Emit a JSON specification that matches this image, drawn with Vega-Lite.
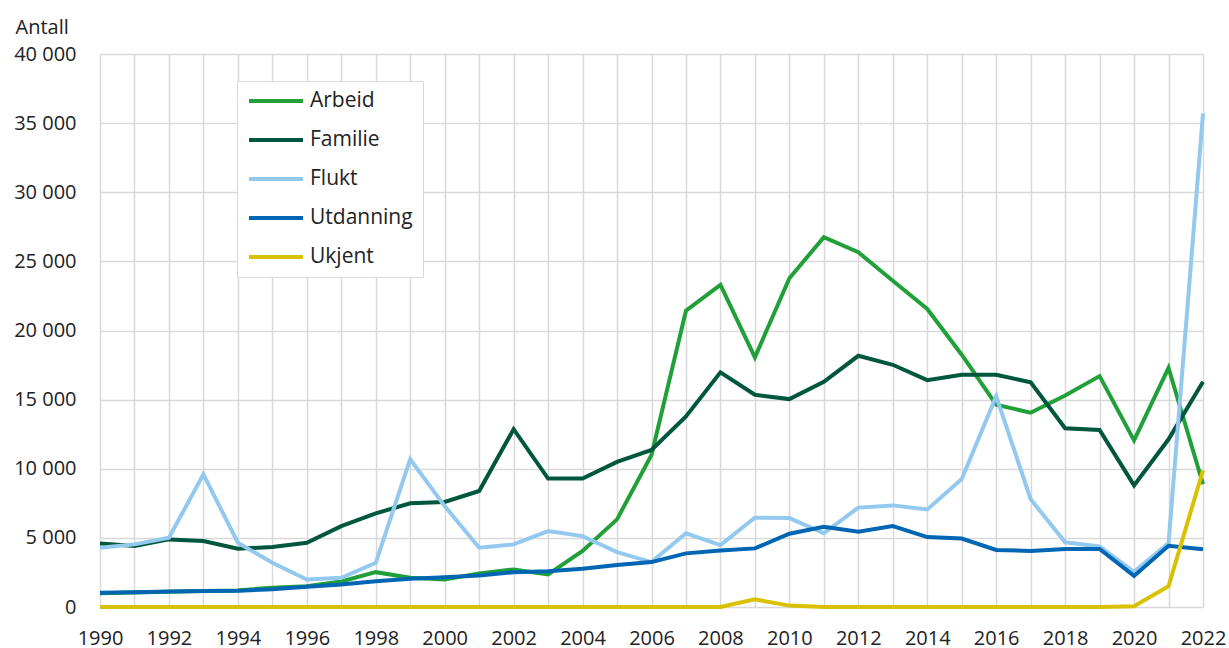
{
  "$schema": "https://vega.github.io/schema/vega-lite/v6.json",
  "autosize": {"type": "none"},
  "padding": {"left": 100, "top": 54, "right": 26, "bottom": 41},
  "width": 1103,
  "height": 553,
  "background": "white",
  "config": {
    "font": "Open Sans",
    "view": {"stroke": null},
    "axis": {"labelFont": "Open Sans", "labelFontSize": 20, "labelColor": "#222222", "titleFont": "Open Sans", "titleFontSize": 20, "titleColor": "#222222", "titleFontWeight": "normal", "gridColor": "#d9d9d9", "gridWidth": 1.5, "domain": false, "ticks": false}
  },
  "data": {"values": [
    {"year":1990,"series":"Arbeid","value":1000},{"year":1991,"series":"Arbeid","value":1050},{"year":1992,"series":"Arbeid","value":1100},{"year":1993,"series":"Arbeid","value":1150},{"year":1994,"series":"Arbeid","value":1200},{"year":1995,"series":"Arbeid","value":1400},{"year":1996,"series":"Arbeid","value":1500},{"year":1997,"series":"Arbeid","value":1850},{"year":1998,"series":"Arbeid","value":2520},{"year":1999,"series":"Arbeid","value":2110},{"year":2000,"series":"Arbeid","value":1990},{"year":2001,"series":"Arbeid","value":2430},{"year":2002,"series":"Arbeid","value":2720},{"year":2003,"series":"Arbeid","value":2360},{"year":2004,"series":"Arbeid","value":4050},{"year":2005,"series":"Arbeid","value":6340},{"year":2006,"series":"Arbeid","value":11000},{"year":2007,"series":"Arbeid","value":21430},{"year":2008,"series":"Arbeid","value":23300},{"year":2009,"series":"Arbeid","value":18060},{"year":2010,"series":"Arbeid","value":23780},{"year":2011,"series":"Arbeid","value":26750},{"year":2012,"series":"Arbeid","value":25660},{"year":2013,"series":"Arbeid","value":23600},{"year":2014,"series":"Arbeid","value":21560},{"year":2015,"series":"Arbeid","value":18250},{"year":2016,"series":"Arbeid","value":14630},{"year":2017,"series":"Arbeid","value":14050},{"year":2018,"series":"Arbeid","value":15300},{"year":2019,"series":"Arbeid","value":16700},{"year":2020,"series":"Arbeid","value":12050},{"year":2021,"series":"Arbeid","value":17300},{"year":2022,"series":"Arbeid","value":8880},
    {"year":1990,"series":"Familie","value":4600},{"year":1991,"series":"Familie","value":4410},{"year":1992,"series":"Familie","value":4890},{"year":1993,"series":"Familie","value":4770},{"year":1994,"series":"Familie","value":4220},{"year":1995,"series":"Familie","value":4340},{"year":1996,"series":"Familie","value":4650},{"year":1997,"series":"Familie","value":5850},{"year":1998,"series":"Familie","value":6770},{"year":1999,"series":"Familie","value":7500},{"year":2000,"series":"Familie","value":7600},{"year":2001,"series":"Familie","value":8390},{"year":2002,"series":"Familie","value":12860},{"year":2003,"series":"Familie","value":9290},{"year":2004,"series":"Familie","value":9290},{"year":2005,"series":"Familie","value":10490},{"year":2006,"series":"Familie","value":11360},{"year":2007,"series":"Familie","value":13780},{"year":2008,"series":"Familie","value":16970},{"year":2009,"series":"Familie","value":15350},{"year":2010,"series":"Familie","value":15040},{"year":2011,"series":"Familie","value":16290},{"year":2012,"series":"Familie","value":18170},{"year":2013,"series":"Familie","value":17520},{"year":2014,"series":"Familie","value":16410},{"year":2015,"series":"Familie","value":16800},{"year":2016,"series":"Familie","value":16800},{"year":2017,"series":"Familie","value":16250},{"year":2018,"series":"Familie","value":12930},{"year":2019,"series":"Familie","value":12800},{"year":2020,"series":"Familie","value":8800},{"year":2021,"series":"Familie","value":12130},{"year":2022,"series":"Familie","value":16300},
    {"year":1990,"series":"Flukt","value":4290},{"year":1991,"series":"Flukt","value":4530},{"year":1992,"series":"Flukt","value":5010},{"year":1993,"series":"Flukt","value":9600},{"year":1994,"series":"Flukt","value":4650},{"year":1995,"series":"Flukt","value":3200},{"year":1996,"series":"Flukt","value":1990},{"year":1997,"series":"Flukt","value":2110},{"year":1998,"series":"Flukt","value":3200},{"year":1999,"series":"Flukt","value":10690},{"year":2000,"series":"Flukt","value":7300},{"year":2001,"series":"Flukt","value":4290},{"year":2002,"series":"Flukt","value":4530},{"year":2003,"series":"Flukt","value":5490},{"year":2004,"series":"Flukt","value":5130},{"year":2005,"series":"Flukt","value":3970},{"year":2006,"series":"Flukt","value":3250},{"year":2007,"series":"Flukt","value":5330},{"year":2008,"series":"Flukt","value":4480},{"year":2009,"series":"Flukt","value":6460},{"year":2010,"series":"Flukt","value":6430},{"year":2011,"series":"Flukt","value":5330},{"year":2012,"series":"Flukt","value":7190},{"year":2013,"series":"Flukt","value":7350},{"year":2014,"series":"Flukt","value":7060},{"year":2015,"series":"Flukt","value":9250},{"year":2016,"series":"Flukt","value":15250},{"year":2017,"series":"Flukt","value":7800},{"year":2018,"series":"Flukt","value":4680},{"year":2019,"series":"Flukt","value":4380},{"year":2020,"series":"Flukt","value":2550},{"year":2021,"series":"Flukt","value":4630},{"year":2022,"series":"Flukt","value":35700},
    {"year":1990,"series":"Utdanning","value":1030},{"year":1991,"series":"Utdanning","value":1060},{"year":1992,"series":"Utdanning","value":1120},{"year":1993,"series":"Utdanning","value":1160},{"year":1994,"series":"Utdanning","value":1180},{"year":1995,"series":"Utdanning","value":1290},{"year":1996,"series":"Utdanning","value":1460},{"year":1997,"series":"Utdanning","value":1630},{"year":1998,"series":"Utdanning","value":1870},{"year":1999,"series":"Utdanning","value":2040},{"year":2000,"series":"Utdanning","value":2160},{"year":2001,"series":"Utdanning","value":2280},{"year":2002,"series":"Utdanning","value":2520},{"year":2003,"series":"Utdanning","value":2590},{"year":2004,"series":"Utdanning","value":2770},{"year":2005,"series":"Utdanning","value":3030},{"year":2006,"series":"Utdanning","value":3250},{"year":2007,"series":"Utdanning","value":3880},{"year":2008,"series":"Utdanning","value":4090},{"year":2009,"series":"Utdanning","value":4240},{"year":2010,"series":"Utdanning","value":5300},{"year":2011,"series":"Utdanning","value":5810},{"year":2012,"series":"Utdanning","value":5450},{"year":2013,"series":"Utdanning","value":5860},{"year":2014,"series":"Utdanning","value":5060},{"year":2015,"series":"Utdanning","value":4950},{"year":2016,"series":"Utdanning","value":4130},{"year":2017,"series":"Utdanning","value":4050},{"year":2018,"series":"Utdanning","value":4200},{"year":2019,"series":"Utdanning","value":4200},{"year":2020,"series":"Utdanning","value":2250},{"year":2021,"series":"Utdanning","value":4430},{"year":2022,"series":"Utdanning","value":4180},
    {"year":1990,"series":"Ukjent","value":0},{"year":1991,"series":"Ukjent","value":0},{"year":1992,"series":"Ukjent","value":0},{"year":1993,"series":"Ukjent","value":0},{"year":1994,"series":"Ukjent","value":0},{"year":1995,"series":"Ukjent","value":0},{"year":1996,"series":"Ukjent","value":0},{"year":1997,"series":"Ukjent","value":0},{"year":1998,"series":"Ukjent","value":0},{"year":1999,"series":"Ukjent","value":0},{"year":2000,"series":"Ukjent","value":0},{"year":2001,"series":"Ukjent","value":0},{"year":2002,"series":"Ukjent","value":0},{"year":2003,"series":"Ukjent","value":0},{"year":2004,"series":"Ukjent","value":0},{"year":2005,"series":"Ukjent","value":0},{"year":2006,"series":"Ukjent","value":0},{"year":2007,"series":"Ukjent","value":0},{"year":2008,"series":"Ukjent","value":0},{"year":2009,"series":"Ukjent","value":550},{"year":2010,"series":"Ukjent","value":100},{"year":2011,"series":"Ukjent","value":0},{"year":2012,"series":"Ukjent","value":0},{"year":2013,"series":"Ukjent","value":0},{"year":2014,"series":"Ukjent","value":0},{"year":2015,"series":"Ukjent","value":0},{"year":2016,"series":"Ukjent","value":0},{"year":2017,"series":"Ukjent","value":0},{"year":2018,"series":"Ukjent","value":0},{"year":2019,"series":"Ukjent","value":0},{"year":2020,"series":"Ukjent","value":50},{"year":2021,"series":"Ukjent","value":1500},{"year":2022,"series":"Ukjent","value":9880}
  ]},
  "mark": {"type": "line", "strokeWidth": 4, "strokeJoin": "miter", "clip": false},
  "encoding": {
    "x": {
      "field": "year", "type": "quantitative",
      "scale": {"domain": [1990, 2022], "nice": false, "zero": false},
      "axis": {
        "title": null,
        "values": [1990,1991,1992,1993,1994,1995,1996,1997,1998,1999,2000,2001,2002,2003,2004,2005,2006,2007,2008,2009,2010,2011,2012,2013,2014,2015,2016,2017,2018,2019,2020,2021,2022],
        "labelExpr": "datum.value % 2 == 0 ? toString(datum.value) : ''",
        "labelOverlap": false,
        "labelFlush": false,
        "labelPadding": 21,
        "grid": true
      }
    },
    "y": {
      "field": "value", "type": "quantitative",
      "scale": {"domain": [0, 40000], "nice": false},
      "axis": {
        "title": "Antall",
        "titleAngle": 0,
        "titleAlign": "left",
        "titleBaseline": "alphabetic",
        "titleX": -85,
        "titleY": -21,
        "values": [0,5000,10000,15000,20000,25000,30000,35000,40000],
        "labelExpr": "replace(format(datum.value, ','), ',', ' ')",
        "labelPadding": 24,
        "grid": true
      }
    },
    "color": {
      "field": "series", "type": "nominal",
      "sort": ["Arbeid", "Familie", "Flukt", "Utdanning", "Ukjent"],
      "scale": {"domain": ["Arbeid", "Familie", "Flukt", "Utdanning", "Ukjent"], "range": ["#21a039", "#00573d", "#93c9ee", "#0066b3", "#d9c100"]},
      "legend": {
        "title": null,
        "orient": "none",
        "legendX": 137,
        "legendY": 27,
        "direction": "vertical",
        "symbolType": "stroke",
        "symbolSize": 2916,
        "symbolStrokeWidth": 4,
        "labelFont": "Open Sans",
        "labelFontSize": 21,
        "labelColor": "#222222",
        "labelOffset": 5,
        "clipHeight": 20,
        "rowPadding": 18,
        "padding": 10,
        "strokeColor": "#d9d9d9",
        "fillColor": "white"
      }
    }
  }
}
